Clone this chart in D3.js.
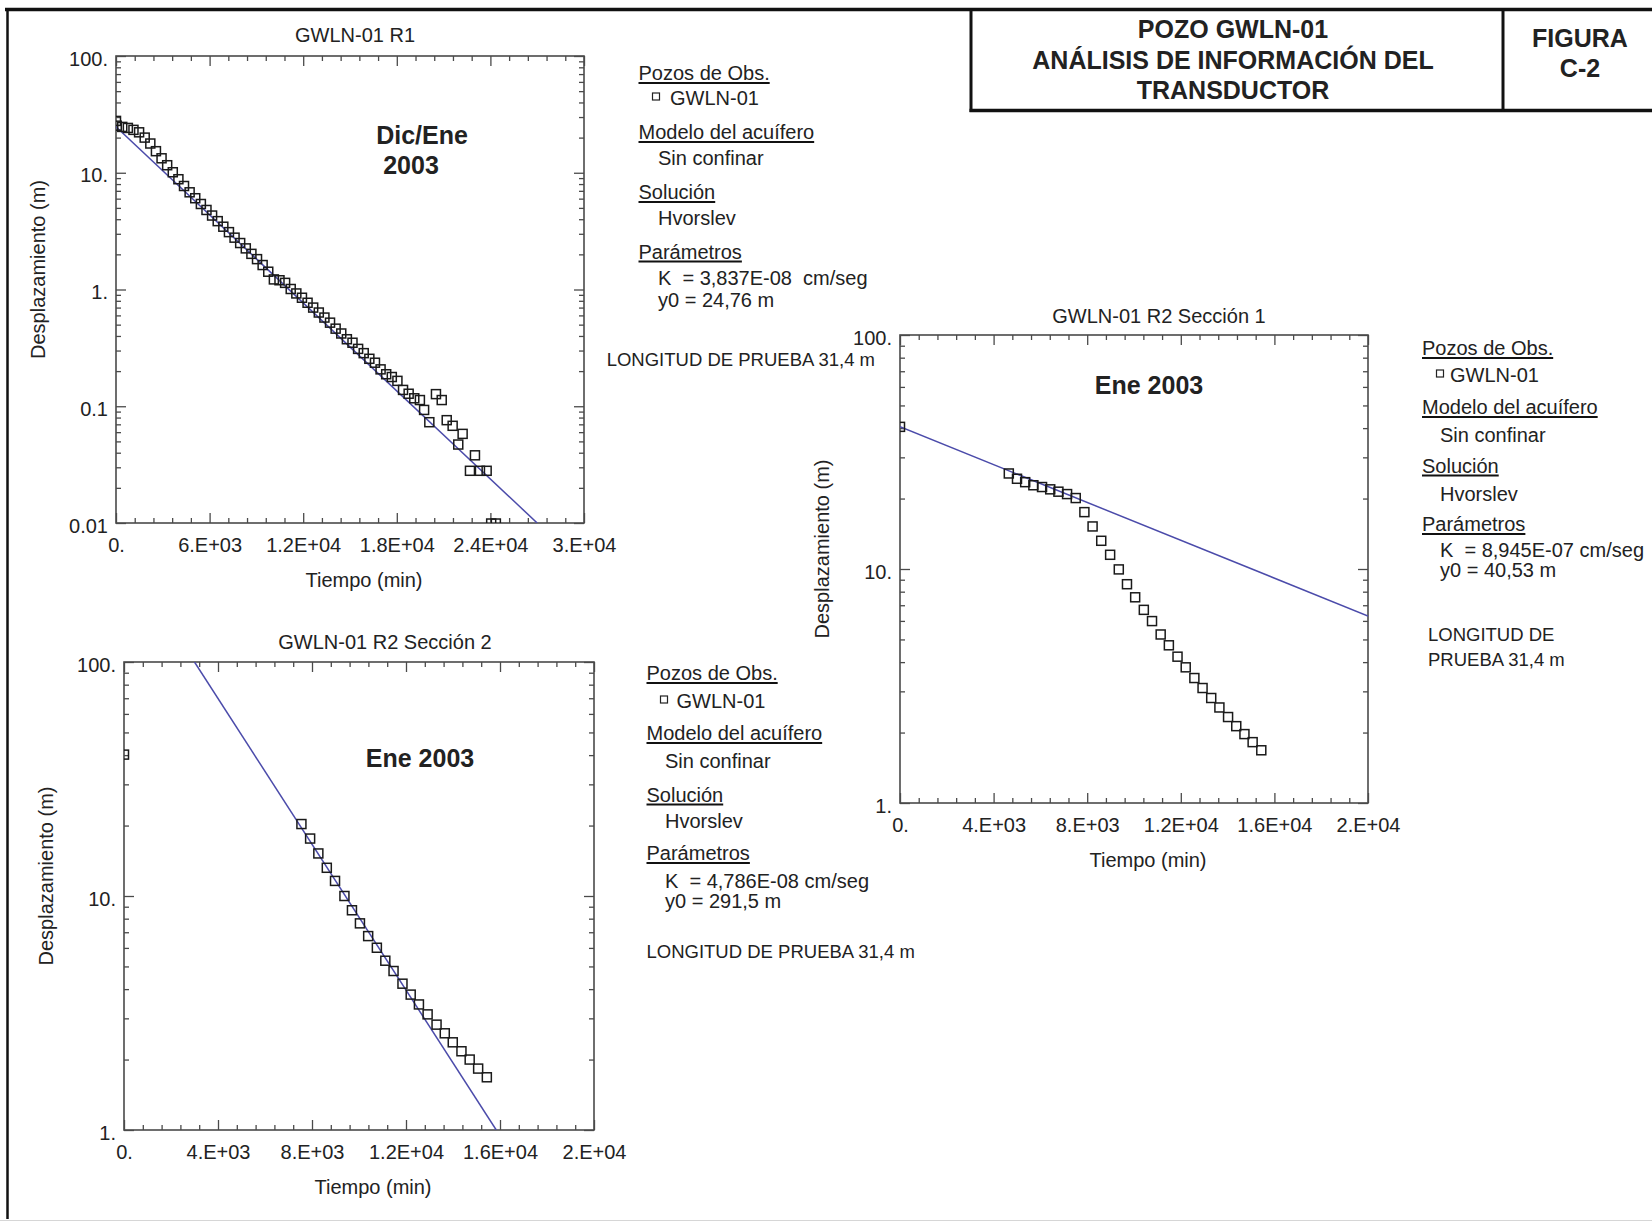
<!DOCTYPE html>
<html>
<head>
<meta charset="utf-8">
<script src="https://cdn.jsdelivr.net/npm/d3@7"></script>
<style>
body { margin: 0; background: #fff; }
svg text { font-family: "Liberation Sans", Arial, sans-serif; fill: #222; }
</style>
</head>
<body>
<div id="chart"></div>
<script>
const WIDTH = 1652;
const HEIGHT = 1222;
const FONT = '"Liberation Sans", Arial, sans-serif';

// GWLN-01 R1 (Dic/Ene 2003)
const r1Time = [0, 50, 400, 760, 1120, 1480, 1840, 2200, 2560, 2920, 3280, 3640, 4000, 4360, 4720,
    5080, 5440, 5800, 6160, 6520, 6880, 7240, 7600, 7960, 8320, 8680, 9040, 9400, 9760, 10120,
    10480, 10840, 11200, 11560, 11920, 12280, 12640, 13000, 13360, 13720, 14080, 14440, 14800,
    15160, 15520, 15880, 16240, 16600, 16960, 17320, 17680, 18040, 18400, 18760, 19120, 19480,
    19750, 20085, 20510, 20880, 21200, 21580, 21940, 22220, 22690, 23010, 23330, 23760, 24050, 24350];
const r1Disp = [27.8, 25.3, 24.7, 24.2, 23.3, 22.2, 20.0, 17.8, 15.3, 13.3, 11.6, 10.1, 8.8, 7.7, 6.8,
    6.05, 5.4, 4.8, 4.3, 3.85, 3.45, 3.1, 2.78, 2.5, 2.25, 2.02, 1.82, 1.62, 1.42, 1.22,
    1.2, 1.14, 1.01, 0.925, 0.85, 0.77, 0.70, 0.635, 0.575, 0.52, 0.462, 0.42, 0.375,
    0.35, 0.31, 0.285, 0.255, 0.236, 0.207, 0.188, 0.178, 0.165, 0.138, 0.128, 0.117, 0.113,
    0.093, 0.073, 0.127, 0.113, 0.076, 0.068, 0.047, 0.058, 0.028, 0.038, 0.028, 0.028, 0.0099, 0.0099];
const r1FitTime = [0, 27000];
const r1FitDisp = [24.76, 0.01];
const r1XTicks = [0, 6000, 12000, 18000, 24000, 30000];
const r1XLabels = ['0.', '6.E+03', '1.2E+04', '1.8E+04', '2.4E+04', '3.E+04'];
const r1YTicks = [0.01, 0.1, 1, 10, 100];
const r1YLabels = ['0.01', '0.1', '1.', '10.', '100.'];

// GWLN-01 R2 Sección 1
const r2s1Time = [0, 4650, 5000, 5350, 5700, 6070, 6420, 6770, 7140, 7510, 7880, 8230, 8600, 8980,
    9350, 9700, 10050, 10420, 10770, 11140, 11490, 11860, 12210, 12580, 12930, 13300, 13650,
    14020, 14370, 14720, 15070, 15440];
const r2s1Disp = [40.5, 25.6, 24.3, 23.5, 22.8, 22.4, 21.9, 21.4, 20.9, 20.1, 17.5, 15.2, 13.2, 11.5,
    9.96, 8.61, 7.57, 6.69, 5.99, 5.25, 4.72, 4.22, 3.80, 3.42, 3.10, 2.81, 2.56,
    2.33, 2.13, 1.97, 1.82, 1.68];
const r2s1FitTime = [0, 20000];
const r2s1FitDisp = [40.53, 6.3];

// GWLN-01 R2 Sección 2
const r2s2Time = [0, 7550, 7920, 8270, 8630, 8980, 9380, 9700, 10040, 10390, 10760, 11120, 11470,
    11850, 12200, 12550, 12920, 13300, 13650, 13990, 14360, 14710, 15070, 15440];
const r2s2Disp = [40.2, 20.3, 17.6, 15.2, 13.2, 11.6, 10.0, 8.69, 7.64, 6.74, 6.01, 5.29, 4.78,
    4.22, 3.79, 3.44, 3.12, 2.82, 2.59, 2.37, 2.17, 2.00, 1.83, 1.68];
const r2s2FitTime = [3000, 15840];
const r2s2FitDisp = [100, 1];

const r2XTicks = [0, 4000, 8000, 12000, 16000, 20000];
const r2XLabels = ['0.', '4.E+03', '8.E+03', '1.2E+04', '1.6E+04', '2.E+04'];
const r2YTicks = [1, 10, 100];
const r2YLabels = ['1.', '10.', '100.'];

const svg = d3.select('#chart')
    .append('svg')
    .attr('width', WIDTH)
    .attr('height', HEIGHT);


function isDecade(v) {
    let l = Math.log10(v);
    return Math.abs(l - Math.round(l)) < 1e-6;
}


function styleAxis(g) {
    g.attr('font-size', 20).attr('font-family', FONT).attr('color', '#222');
    g.selectAll('.domain').remove();
    g.selectAll('.tick line').attr('stroke', '#4a4a4a').attr('stroke-width', 1.3);
}


function drawPlot(p) {
    let x = d3.scaleLinear().domain(p.xDomain).range([p.left, p.left + p.width]);
    let y = d3.scaleLog().domain(p.yDomain).range([p.top + p.height, p.top]);
    let bottomY = p.top + p.height;
    let rightX = p.left + p.width;

    svg.append('clipPath').attr('id', 'clip-' + p.id)
        .append('rect')
        .attr('x', p.left).attr('y', p.top)
        .attr('width', p.width).attr('height', p.height);

    let g = svg.append('g');

    let minorX = d3.range(p.xDomain[0], p.xDomain[1] + 1, p.xMinor).filter(v => !p.xTicks.includes(v));
    let minorY = y.ticks().filter(v => !isDecade(v));

    // bottom
    g.append('g').attr('transform', `translate(0,${bottomY})`)
        .call(d3.axisBottom(x).tickValues(p.xTicks).tickFormat((d, i) => p.xLabels[i])
            .tickSizeInner(-10).tickSizeOuter(0).tickPadding(15))
        .call(styleAxis);
    g.append('g').attr('transform', `translate(0,${bottomY})`)
        .call(d3.axisBottom(x).tickValues(minorX).tickFormat('').tickSize(-5))
        .call(styleAxis);
    // top
    g.append('g').attr('transform', `translate(0,${p.top})`)
        .call(d3.axisTop(x).tickValues(p.xTicks).tickFormat('').tickSize(-10))
        .call(styleAxis);
    g.append('g').attr('transform', `translate(0,${p.top})`)
        .call(d3.axisTop(x).tickValues(minorX).tickFormat('').tickSize(-5))
        .call(styleAxis);
    // left
    g.append('g').attr('transform', `translate(${p.left},0)`)
        .call(d3.axisLeft(y).tickValues(p.yTicks).tickFormat((d, i) => p.yLabels[i])
            .tickSizeInner(-10).tickSizeOuter(0).tickPadding(8))
        .call(styleAxis)
        .selectAll('text').attr('dy', '0.45em');
    g.append('g').attr('transform', `translate(${p.left},0)`)
        .call(d3.axisLeft(y).tickValues(minorY).tickFormat('').tickSize(-5))
        .call(styleAxis);
    // right
    g.append('g').attr('transform', `translate(${rightX},0)`)
        .call(d3.axisRight(y).tickValues(p.yTicks).tickFormat('').tickSize(-10))
        .call(styleAxis);
    g.append('g').attr('transform', `translate(${rightX},0)`)
        .call(d3.axisRight(y).tickValues(minorY).tickFormat('').tickSize(-5))
        .call(styleAxis);

    // frame
    g.append('rect')
        .attr('x', p.left).attr('y', p.top)
        .attr('width', p.width).attr('height', p.height)
        .attr('fill', 'none')
        .attr('stroke', '#4a4a4a')
        .attr('stroke-width', 1.6);

    let inner = g.append('g').attr('clip-path', `url(#clip-${p.id})`);

    // fitted Hvorslev line
    let fit = p.fitTime.map((t, i) => [t, p.fitDisp[i]]);
    inner.append('path')
        .datum(fit)
        .attr('d', d3.line().x(d => x(d[0])).y(d => y(d[1])))
        .attr('fill', 'none')
        .attr('stroke', '#4b4baa')
        .attr('stroke-width', 1.5);

    // observations
    let obs = p.time.map((t, i) => ({ t: t, v: p.disp[i] }));
    let s = 9;
    inner.selectAll('rect.obs')
        .data(obs)
        .enter()
        .append('rect')
        .attr('class', 'obs')
        .attr('x', d => x(d.t) - s / 2)
        .attr('y', d => y(d.v) - s / 2)
        .attr('width', s)
        .attr('height', s)
        .attr('fill', 'none')
        .attr('stroke', '#1a1a1a')
        .attr('stroke-width', 1.5);

    // labels
    g.append('text')
        .attr('x', p.titleX).attr('y', p.titleY)
        .attr('text-anchor', 'middle')
        .attr('font-size', 20)
        .text(p.title);

    g.append('text')
        .attr('transform', `translate(${p.left - 78},${p.top + p.height / 2 - 20}) rotate(-90)`)
        .attr('text-anchor', 'middle')
        .attr('dy', '0.35em')
        .attr('font-size', 20)
        .text('Desplazamiento (m)');

    g.append('text')
        .attr('x', p.left + p.width / 2 + 14)
        .attr('y', bottomY + 64)
        .attr('text-anchor', 'middle')
        .attr('font-size', 20)
        .text('Tiempo (min)');

    p.notes.forEach(n => {
        g.append('text')
            .attr('x', n.x).attr('y', n.y)
            .attr('text-anchor', 'middle')
            .attr('font-size', 25)
            .attr('font-weight', 'bold')
            .text(n.text);
    });
}


function drawLegend(L) {
    let g = svg.append('g');
    let lines = [
        { text: 'Pozos de Obs.', head: true },
        { text: 'GWLN-01', sym: true },
        { text: 'Modelo del acuífero', head: true },
        { text: 'Sin confinar' },
        { text: 'Solución', head: true },
        { text: 'Hvorslev' },
        { text: 'Parámetros', head: true },
        { text: L.k },
        { text: L.y0 }
    ];
    lines.forEach((ln, i) => {
        let by = L.baselines[i];
        let tx = ln.head ? L.x : (ln.sym ? L.symTextX : L.indentX);
        let t = g.append('text')
            .attr('x', tx).attr('y', by)
            .attr('font-size', 20)
            .attr('xml:space', 'preserve')
            .style('white-space', 'pre')
            .text(ln.text);
        if (ln.head) {
            let w = t.node().getComputedTextLength();
            g.append('line')
                .attr('x1', tx).attr('x2', tx + w)
                .attr('y1', by + 3).attr('y2', by + 3)
                .attr('stroke', '#111')
                .attr('stroke-width', 2);
        }
        if (ln.sym) {
            g.append('rect')
                .attr('x', L.symX - 3.5).attr('y', by - 12)
                .attr('width', 7).attr('height', 7)
                .attr('fill', 'none')
                .attr('stroke', '#222')
                .attr('stroke-width', 1.2);
        }
    });
    L.note.forEach(n => {
        g.append('text')
            .attr('x', n.x).attr('y', n.y)
            .attr('text-anchor', n.anchor || 'start')
            .attr('font-size', 18.5)
            .text(n.text);
    });
}


drawPlot({
    id: 'r1', left: 116, top: 56, width: 468, height: 467,
    xDomain: [0, 30000], yDomain: [0.01, 100], xMinor: 1200,
    xTicks: r1XTicks, xLabels: r1XLabels, yTicks: r1YTicks, yLabels: r1YLabels,
    time: r1Time, disp: r1Disp, fitTime: r1FitTime, fitDisp: r1FitDisp,
    title: 'GWLN-01 R1', titleX: 355, titleY: 42,
    notes: [{ text: 'Dic/Ene', x: 422, y: 144 }, { text: '2003', x: 411, y: 174 }]
});

drawPlot({
    id: 'r2s1', left: 900, top: 335, width: 468, height: 468,
    xDomain: [0, 20000], yDomain: [1, 100], xMinor: 800,
    xTicks: r2XTicks, xLabels: r2XLabels, yTicks: r2YTicks, yLabels: r2YLabels,
    time: r2s1Time, disp: r2s1Disp, fitTime: r2s1FitTime, fitDisp: r2s1FitDisp,
    title: 'GWLN-01 R2 Sección 1', titleX: 1159, titleY: 323,
    notes: [{ text: 'Ene 2003', x: 1149, y: 394 }]
});

drawPlot({
    id: 'r2s2', left: 124, top: 662, width: 470, height: 468,
    xDomain: [0, 20000], yDomain: [1, 100], xMinor: 800,
    xTicks: r2XTicks, xLabels: r2XLabels, yTicks: r2YTicks, yLabels: r2YLabels,
    time: r2s2Time, disp: r2s2Disp, fitTime: r2s2FitTime, fitDisp: r2s2FitDisp,
    title: 'GWLN-01 R2 Sección 2', titleX: 385, titleY: 649,
    notes: [{ text: 'Ene 2003', x: 420, y: 767 }]
});

drawLegend({
    x: 638.5, indentX: 658, symX: 656, symTextX: 670,
    baselines: [80, 105, 139, 165, 199, 225, 258.5, 285, 307],
    k: 'K  = 3,837E-08  cm/seg', y0: 'y0 = 24,76 m',
    note: [{ text: 'LONGITUD DE PRUEBA 31,4 m', x: 875, y: 366, anchor: 'end' }]
});

drawLegend({
    x: 1422, indentX: 1440, symX: 1440, symTextX: 1450,
    baselines: [355, 382, 414, 441.5, 472.5, 500.5, 531, 557, 577],
    k: 'K  = 8,945E-07 cm/seg', y0: 'y0 = 40,53 m',
    note: [{ text: 'LONGITUD DE', x: 1428, y: 641 }, { text: 'PRUEBA 31,4 m', x: 1428, y: 666 }]
});

drawLegend({
    x: 646.5, indentX: 665, symX: 664, symTextX: 676.5,
    baselines: [680, 708, 740, 768, 801.5, 828, 860, 888, 908],
    k: 'K  = 4,786E-08 cm/seg', y0: 'y0 = 291,5 m',
    note: [{ text: 'LONGITUD DE PRUEBA 31,4 m', x: 646.5, y: 958 }]
});

// page frame and title block
let frame = svg.append('g').attr('stroke', '#111').attr('fill', 'none');
frame.append('line').attr('x1', 5).attr('x2', WIDTH).attr('y1', 9.5).attr('y2', 9.5).attr('stroke-width', 3.5);
frame.append('line').attr('x1', 7.5).attr('x2', 7.5).attr('y1', 8).attr('y2', 1219).attr('stroke-width', 2.5);
frame.append('line').attr('x1', 0).attr('x2', WIDTH).attr('y1', 1220.5).attr('y2', 1220.5)
    .attr('stroke', '#d6d6d6').attr('stroke-width', 1);
frame.append('line').attr('x1', 971).attr('x2', 971).attr('y1', 9.5).attr('y2', 112).attr('stroke-width', 3);
frame.append('line').attr('x1', 969.5).attr('x2', WIDTH).attr('y1', 110.5).attr('y2', 110.5).attr('stroke-width', 3.5);
frame.append('line').attr('x1', 1503).attr('x2', 1503).attr('y1', 9.5).attr('y2', 112).attr('stroke-width', 3);

let titleLines = ['POZO GWLN-01', 'ANÁLISIS DE INFORMACIÓN DEL', 'TRANSDUCTOR'];
let titleY = [37.5, 68.5, 99];
titleLines.forEach((t, i) => {
    svg.append('text')
        .attr('x', 1233).attr('y', titleY[i])
        .attr('text-anchor', 'middle')
        .attr('font-size', 25)
        .attr('font-weight', 'bold')
        .text(t);
});
let figLines = ['FIGURA', 'C-2'];
let figY = [46.5, 77];
figLines.forEach((t, i) => {
    svg.append('text')
        .attr('x', 1580).attr('y', figY[i])
        .attr('text-anchor', 'middle')
        .attr('font-size', 25)
        .attr('font-weight', 'bold')
        .text(t);
});
</script>
</body>
</html>
